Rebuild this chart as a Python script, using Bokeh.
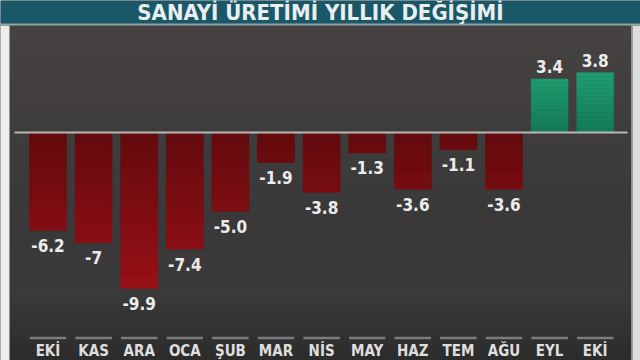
from bokeh.plotting import figure
from bokeh.models import Range1d, ColumnDataSource
from bokeh.core.properties import value
from bokeh.embed import file_html
from bokeh.resources import INLINE

# ---- data ----
months = ["EKİ", "KAS", "ARA", "OCA", "ŞUB", "MAR", "NİS", "MAY", "HAZ", "TEM", "AĞU", "EYL", "EKİ"]
changes = [-6.2, -7.0, -9.9, -7.4, -5.0, -1.9, -3.8, -1.3, -3.6, -1.1, -3.6, 3.4, 3.8]
value_labels = ["-6.2", "-7", "-9.9", "-7.4", "-5.0", "-1.9", "-3.8", "-1.3", "-3.6", "-1.1", "-3.6", "3.4", "3.8"]
title_text = "SANAYİ ÜRETİMİ YILLIK DEĞİŞİMİ"

W, H = 640, 360
STEP = 45.6       # px per category
X0 = 47.5         # px centre of first category
ZERO = 132.0      # px of zero line from top
SCALE = 15.75     # px per unit

x_start = -X0 / STEP
x_end = (W - X0) / STEP
y_top = ZERO / SCALE
y_bot = -(H - ZERO) / SCALE

def px_x(px):
    return x_start + px / STEP

def px_y(py):
    return y_top - py / SCALE

FONT = "'DejaVu Sans Condensed', 'Roboto Condensed', Roboto, sans-serif"

p = figure(width=W, height=H, output_backend="svg", toolbar_location=None,
           x_range=Range1d(x_start, x_end), y_range=Range1d(y_bot, y_top),
           min_border=0)
p.axis.visible = False
p.grid.visible = False
p.outline_line_color = None
p.background_fill_color = "#3c3939"
p.border_fill_color = "#e6e6e6"

def lerp(c1, c2, t):
    a = [int(c1[i:i + 2], 16) for i in (1, 3, 5)]
    b = [int(c2[i:i + 2], 16) for i in (1, 3, 5)]
    return "#%02x%02x%02x" % tuple(int(round(a[k] + (b[k] - a[k]) * t)) for k in range(3))

# panel background gradient
nb = 40
bg = dict(left=[], right=[], top=[], bottom=[], color=[])
for k in range(nb):
    t0 = 25 + (H - 25) * k / nb
    t1 = 25 + (H - 25) * (k + 1) / nb
    t = k / (nb - 1)
    if t < 0.55:
        c = lerp("#464242", "#3a3838", t / 0.55)
    elif t < 0.8:
        c = lerp("#3a3838", "#3b3a3a", (t - 0.55) / 0.25)
    else:
        c = lerp("#3b3a3a", "#2c2c2c", (t - 0.8) / 0.2)
    bg["left"].append(px_x(9)); bg["right"].append(px_x(631))
    bg["top"].append(px_y(t0)); bg["bottom"].append(px_y(t1 + 0.5))
    bg["color"].append(c)
p.quad(source=ColumnDataSource(bg), left="left", right="right", top="top", bottom="bottom",
       fill_color="color", line_color=None)

# side strips
p.quad(left=[px_x(0), px_x(631)], right=[px_x(9), px_x(640)], top=[px_y(25)] * 2, bottom=[px_y(360)] * 2,
       fill_color=["#ececec", "#dddddd"], line_color=None)
p.quad(left=[px_x(631)], right=[px_x(632.5)], top=[px_y(25)], bottom=[px_y(360)],
       fill_color="#9a9a9a", line_color=None)

# title bar
p.quad(left=[px_x(0)], right=[px_x(640)], top=[px_y(0)], bottom=[px_y(23)],
       fill_color="#1a5868", line_color=None)
p.quad(left=[px_x(0)], right=[px_x(640)], top=[px_y(23)], bottom=[px_y(25)],
       fill_color="#8ea7b0", line_color=None)
p.text(x=[px_x(320)], y=[px_y(11.5)], text=[title_text], text_align="center",
       text_baseline="middle", text_color="#e9eef0", text_font=value(FONT),
       text_font_size="22px", text_font_style="bold")

# bars with vertical gradient (colour by level)
BW = 0.81
seg = dict(left=[], right=[], top=[], bottom=[], color=[])
step = 0.25
for i, v in enumerate(changes):
    n = max(1, int(round(abs(v) / step)))
    for k in range(n):
        a = v * k / n
        b = v * (k + 1) / n
        mid = (a + b) / 2
        if v < 0:
            c = lerp("#640a0e", "#9a1016", min(1.0, -mid / 10.0))
        else:
            c = lerp("#137a55", "#20a072", min(1.0, mid / 4.0))
        seg["left"].append(i - BW / 2); seg["right"].append(i + BW / 2)
        seg["top"].append(max(a, b)); seg["bottom"].append(min(a, b))
        seg["color"].append(c)
p.quad(source=ColumnDataSource(seg), left="left", right="right", top="top", bottom="bottom",
       fill_color="color", line_color="color", line_width=0.5)

# zero line
p.segment(x0=[px_x(14)], x1=[px_x(627)], y0=[0], y1=[0], line_color="#b8b8b8", line_width=2)

# value labels
xs = list(range(len(changes)))
neg = [i for i in xs if changes[i] < 0]
pos = [i for i in xs if changes[i] >= 0]
p.text(x=neg, y=[changes[i] for i in neg], text=[value_labels[i] for i in neg],
       text_align="center", text_baseline="middle", y_offset=15,
       text_color="#ececec", text_font=value(FONT), text_font_size="17px", text_font_style="bold")
p.text(x=pos, y=[changes[i] for i in pos], text=[value_labels[i] for i in pos],
       text_align="center", text_baseline="middle", y_offset=-12,
       text_color="#ececec", text_font=value(FONT), text_font_size="17px", text_font_style="bold")

# category tick lines and labels
p.segment(x0=[i - 0.4 for i in xs], x1=[i + 0.4 for i in xs], y0=[px_y(337.5)] * len(xs),
          y1=[px_y(337.5)] * len(xs), line_color="#7c7c7c", line_width=2.5)
p.text(x=xs, y=[px_y(350)] * len(xs), text=months, text_align="center", text_baseline="middle",
       text_color="#dedede", text_font=value(FONT), text_font_size="15px", text_font_style="bold")

open("out.html", "w").write(file_html(p, INLINE))
